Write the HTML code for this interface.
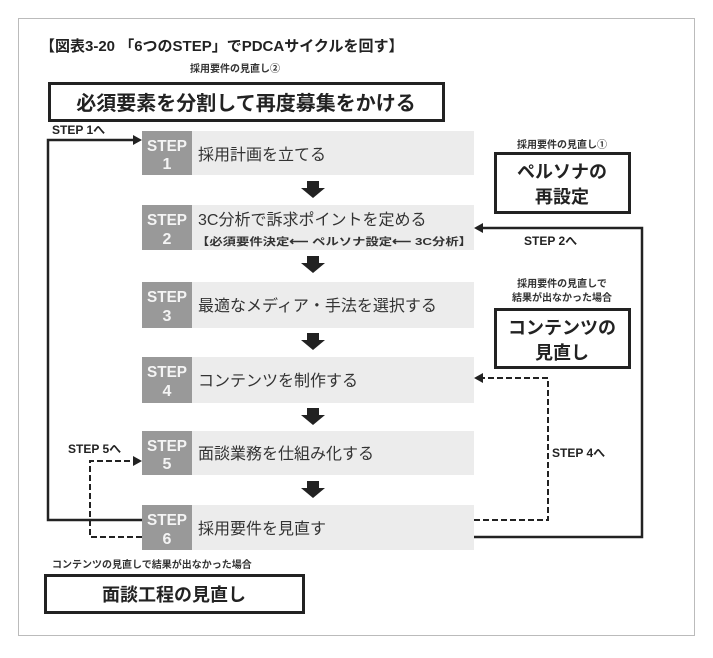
<!DOCTYPE html>
<html><head><meta charset="utf-8"><style>
body{margin:0;background:#fff;}
svg text{font-family:"Liberation Sans","Noto Sans CJK JP",sans-serif;}
</style></head><body>
<svg width="713" height="653" xmlns="http://www.w3.org/2000/svg">
<rect x="18.5" y="18.5" width="676" height="617" fill="#fff" stroke="#bbb" stroke-width="1"/>
<text x="40" y="51" font-size="15" font-weight="bold" fill="#222">【図表3-20 「6つのSTEP」でPDCAサイクルを回す】</text>
<text x="190" y="72" font-size="10" font-weight="bold" fill="#333">採用要件の見直し②</text>
<rect x="49.5" y="83.5" width="394" height="37" fill="#fff" stroke="#222" stroke-width="3"/>
<text x="246" y="110" font-size="20" font-weight="bold" text-anchor="middle" fill="#222">必須要素を分割して再度募集をかける</text>

<g font-weight="bold">
<g>
<rect x="142" y="131" width="332" height="44" fill="#ececec"/><rect x="142" y="131" width="50" height="44" fill="#999"/>
<rect x="142" y="205" width="332" height="45" fill="#ececec"/><rect x="142" y="205" width="50" height="45" fill="#999"/>
<rect x="142" y="282" width="332" height="46" fill="#ececec"/><rect x="142" y="282" width="50" height="46" fill="#999"/>
<rect x="142" y="357" width="332" height="46" fill="#ececec"/><rect x="142" y="357" width="50" height="46" fill="#999"/>
<rect x="142" y="431" width="332" height="44" fill="#ececec"/><rect x="142" y="431" width="50" height="44" fill="#999"/>
<rect x="142" y="505" width="332" height="45" fill="#ececec"/><rect x="142" y="505" width="50" height="45" fill="#999"/>
</g>
<g fill="#f4f4f4" font-size="16" text-anchor="middle">
<text x="167" y="151" textLength="40" lengthAdjust="spacingAndGlyphs">STEP</text><text x="167" y="169">1</text>
<text x="167" y="225" textLength="40" lengthAdjust="spacingAndGlyphs">STEP</text><text x="167" y="244">2</text>
<text x="167" y="302" textLength="40" lengthAdjust="spacingAndGlyphs">STEP</text><text x="167" y="321">3</text>
<text x="167" y="377" textLength="40" lengthAdjust="spacingAndGlyphs">STEP</text><text x="167" y="396">4</text>
<text x="167" y="451" textLength="40" lengthAdjust="spacingAndGlyphs">STEP</text><text x="167" y="469">5</text>
<text x="167" y="525" textLength="40" lengthAdjust="spacingAndGlyphs">STEP</text><text x="167" y="544">6</text>
</g>
</g>
<g fill="#333" font-size="16">
<text x="198" y="160">採用計画を立てる</text>
<text x="198" y="225">3C分析で訴求ポイントを定める</text>
<text x="196" y="245" font-size="10.5" font-weight="bold" textLength="276" lengthAdjust="spacingAndGlyphs">【必須要件決定⟵ ペルソナ設定⟵ 3C分析】</text>
<text x="198" y="311">最適なメディア・手法を選択する</text>
<text x="198" y="386">コンテンツを制作する</text>
<text x="198" y="459">面談業務を仕組み化する</text>
<text x="198" y="534">採用要件を見直す</text>
</g>
<g fill="#222">
<path d="M307 181h12v7h6l-12 10l-12-10h6z"/>
<path d="M307 256h12v7h6l-12 10l-12-10h6z"/>
<path d="M307 333h12v7h6l-12 10l-12-10h6z"/>
<path d="M307 408h12v7h6l-12 10l-12-10h6z"/>
<path d="M307 481h12v7h6l-12 10l-12-10h6z"/>
</g>
<path d="M142 520H48V140H134" fill="none" stroke="#222" stroke-width="2.5"/>
<path d="M142 140l-9-5v10z" fill="#222"/>
<text x="52" y="134" font-size="12" font-weight="bold" fill="#222">STEP 1へ</text>
<path d="M474 537H642V228H483" fill="none" stroke="#222" stroke-width="2.5"/>
<path d="M474 228l9-5v10z" fill="#222"/>
<text x="524" y="245" font-size="12" font-weight="bold" fill="#222">STEP 2へ</text>
<path d="M474 520H548V378H483" fill="none" stroke="#222" stroke-width="2" stroke-dasharray="6,3"/>
<path d="M474 378l9-5v10z" fill="#222"/>
<text x="552" y="457" font-size="12" font-weight="bold" fill="#222">STEP 4へ</text>
<path d="M142 537H90V461H133" fill="none" stroke="#222" stroke-width="2" stroke-dasharray="6,3"/>
<path d="M142 461l-9-5v10z" fill="#222"/>
<text x="68" y="453" font-size="12" font-weight="bold" fill="#222">STEP 5へ</text>
<text x="562" y="148" font-size="10" font-weight="bold" text-anchor="middle" fill="#333">採用要件の見直し①</text>
<rect x="495.5" y="153.5" width="134" height="59" fill="#fff" stroke="#222" stroke-width="3"/>
<text x="562" y="178" font-size="18" font-weight="bold" text-anchor="middle" fill="#222">ペルソナの</text>
<text x="562" y="203" font-size="18" font-weight="bold" text-anchor="middle" fill="#222">再設定</text>
<text x="562" y="287" font-size="10" font-weight="bold" text-anchor="middle" fill="#333">採用要件の見直しで</text>
<text x="562" y="301" font-size="10" font-weight="bold" text-anchor="middle" fill="#333">結果が出なかった場合</text>
<rect x="495.5" y="309.5" width="134" height="58" fill="#fff" stroke="#222" stroke-width="3"/>
<text x="562" y="334" font-size="18" font-weight="bold" text-anchor="middle" fill="#222">コンテンツの</text>
<text x="562" y="359" font-size="18" font-weight="bold" text-anchor="middle" fill="#222">見直し</text>
<text x="52" y="568" font-size="10" font-weight="bold" fill="#333">コンテンツの見直しで結果が出なかった場合</text>
<rect x="45.5" y="575.5" width="258" height="37" fill="#fff" stroke="#222" stroke-width="3"/>
<text x="174" y="601" font-size="18" font-weight="bold" text-anchor="middle" fill="#222">面談工程の見直し</text>
</svg>
</body></html>
